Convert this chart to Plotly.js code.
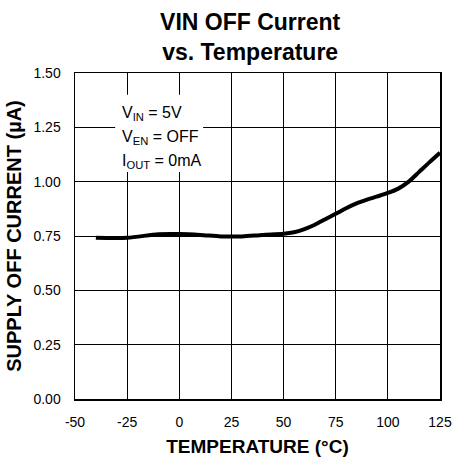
<!DOCTYPE html>
<html><head><meta charset="utf-8">
<script src="https://cdn.plot.ly/plotly-3.0.1.min.js"></script>
<style>html,body{margin:0;padding:0;background:#fff}#c{width:454px;height:463px}</style>
</head><body><div id="c"></div>
<script>
const temperature = [-40,-25,-10,0,10,20,30,40,50,55,60,65,70,75,80,85,90,95,100,105,110,115,120,125];
const offCurrent = [0.742,0.742,0.758,0.759,0.755,0.748,0.748,0.755,0.760,0.767,0.782,0.802,0.827,0.852,0.878,0.900,0.917,0.932,0.948,0.968,1.000,1.045,1.090,1.133];
const xTicks = [-50,-25,0,25,50,75,100,125];
const yTicks = [0,0.25,0.5,0.75,1.0,1.25,1.5];
const conditions = ['V<sub>IN</sub> = 5V','V<sub>EN</sub> = OFF','I<sub>OUT</sub> = 0mA'];

const F = 'Arial, "Liberation Sans", sans-serif';
const trace = {x: temperature, y: offCurrent, mode:'lines', line:{color:'#000', width:4, shape:'spline', smoothing:0.8}, hoverinfo:'skip'};
const ann = conditions.map((t,i)=>({xref:'paper', yref:'paper', x:0.124, y:0.876 - i*0.0737, xanchor:'left', yanchor:'middle', text:t, showarrow:false, font:{family:F, size:16, color:'#000'}}));
const layout = {
  width:454, height:463,
  margin:{l:75, r:14, t:73, b:64},
  paper_bgcolor:'#fff', plot_bgcolor:'#fff',
  showlegend:false,
  title:{text:'<b>VIN OFF Current<br>vs. Temperature</b>', x:0.551, xanchor:'center', y:0.935, yanchor:'top', font:{family:F, size:23, color:'#000'}},
  xaxis:{range:[-50,125], tickvals:xTicks, ticktext:xTicks.map(String), showgrid:true, gridcolor:'#000', gridwidth:1, showline:true, linecolor:'#000', linewidth:1.5, mirror:true, zeroline:false, ticks:'', ticklabelstandoff:10, tickfont:{family:F, size:14, color:'#000'},
    title:{text:'<b>TEMPERATURE (°C)</b>', font:{family:F, size:19, color:'#000'}, standoff:10}},
  yaxis:{range:[0,1.5], tickvals:yTicks, ticktext:yTicks.map(v=>v.toFixed(2)), showgrid:true, gridcolor:'#000', gridwidth:1, showline:true, linecolor:'#000', linewidth:1.5, mirror:true, zeroline:false, ticks:'', ticklabelstandoff:10, tickfont:{family:F, size:14, color:'#000'},
    title:{text:'<b>SUPPLY OFF CURRENT (µA)</b>', font:{family:F, size:20, color:'#000'}, standoff:6}},
  shapes:[{type:'rect', xref:'paper', yref:'paper', x0:0.11, x1:0.351, y0:0.696, y1:0.933, fillcolor:'#fff', line:{width:0}, layer:'above'}],
  annotations: ann
};
Plotly.newPlot('c',[trace],layout,{staticPlot:true, displayModeBar:false});
</script></body></html>
